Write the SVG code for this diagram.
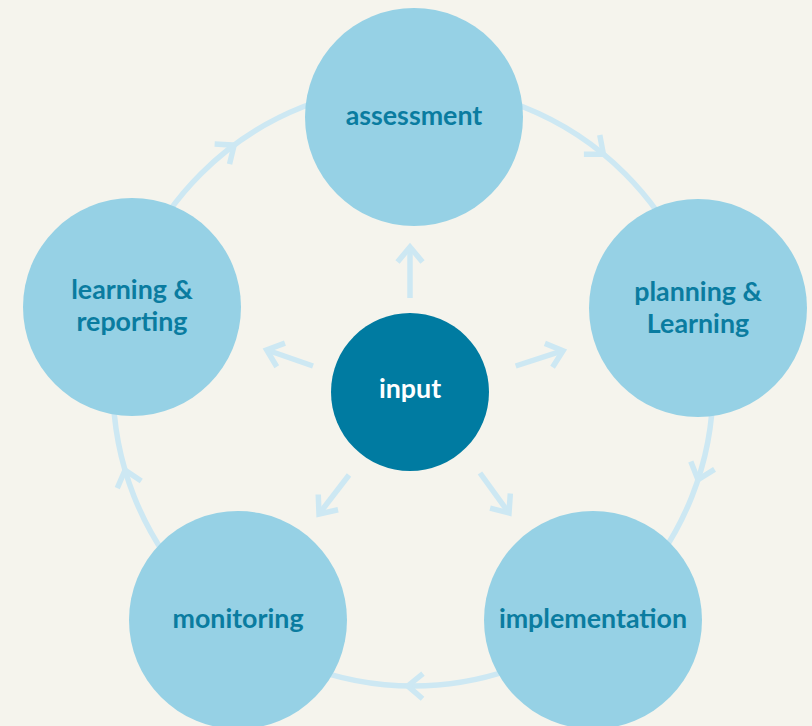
<svg xmlns="http://www.w3.org/2000/svg" width="812" height="726" viewBox="0 0 812 726">
  <style>
    .ring { fill: none; stroke: #cde8f3; stroke-width: 5.5; }
    .flow { fill: none; stroke: #cde8f3; stroke-width: 5.5; stroke-linejoin: miter; }
    .stage { fill: #96d1e5; }
    .hub { fill: #007ba1; }
    .label { font-family: Lato, "Open Sans", sans-serif; font-weight: 700; font-size: 26.8px; fill: #0a7ca0; text-anchor: middle; }
    .hub-label { fill: #ffffff; }
  </style>
  <defs>
    <path id="chev" d="M-15,-12.5 L0,0 L-15,12.5" class="flow"/>
  </defs>
  <rect width="812" height="726" fill="#f5f4ed"/>

  <!-- cycle ring and spokes -->
  <g id="connectors">
    <circle class="ring" cx="413" cy="386" r="300"/>
    <use href="#chev" transform="rotate(39.4 413 386) translate(413 86)"/>
    <use href="#chev" transform="rotate(108.2 413 386) translate(413 86)"/>
    <use href="#chev" transform="rotate(181 413 386) translate(413 86)"/>
    <use href="#chev" transform="rotate(253.7 413 386) translate(413 86)"/>
    <use href="#chev" transform="rotate(323.4 413 386) translate(413 86)"/>

    <line class="flow" x1="410" y1="298" x2="410" y2="248"/>
    <use href="#chev" transform="translate(410 247) rotate(-90)"/>
    <line class="flow" x1="313" y1="366" x2="267" y2="350"/>
    <use href="#chev" transform="translate(266.7 350) rotate(-160.9)"/>
    <line class="flow" x1="515.7" y1="366" x2="563" y2="350.7"/>
    <use href="#chev" transform="translate(563 350.7) rotate(-17.9)"/>
    <line class="flow" x1="349" y1="475" x2="319" y2="514"/>
    <use href="#chev" transform="translate(319 514) rotate(127.6)"/>
    <line class="flow" x1="480" y1="473" x2="509" y2="513"/>
    <use href="#chev" transform="translate(509 513) rotate(54.1)"/>
  </g>

  <g id="assessment">
    <circle class="stage" cx="414" cy="117" r="109"/>
    <text class="label" x="414" y="125">assessment</text>
  </g>
  <g id="planning">
    <circle class="stage" cx="698" cy="308" r="109"/>
    <text class="label" x="698" y="301">planning &amp;</text>
    <text class="label" x="698" y="333">Learning</text>
  </g>
  <g id="implementation">
    <circle class="stage" cx="593" cy="620" r="109"/>
    <text class="label" x="593" y="628">implementation</text>
  </g>
  <g id="monitoring">
    <circle class="stage" cx="238" cy="620" r="109"/>
    <text class="label" x="238" y="628">monitoring</text>
  </g>
  <g id="learning-reporting">
    <circle class="stage" cx="132" cy="307" r="109"/>
    <text class="label" x="132" y="299">learning &amp;</text>
    <text class="label" x="132" y="331">reporting</text>
  </g>
  <g id="input">
    <circle class="hub" cx="410" cy="392" r="79"/>
    <text class="label hub-label" x="410" y="398">input</text>
  </g>
</svg>
